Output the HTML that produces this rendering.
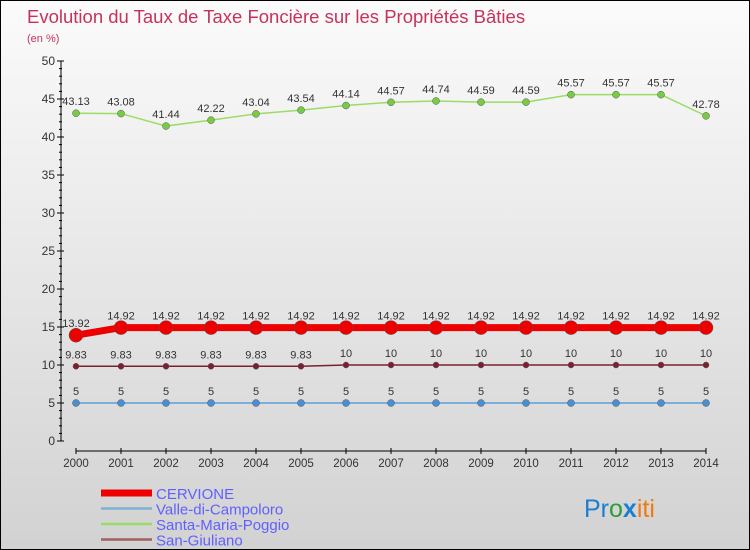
<!DOCTYPE html>
<html><head><meta charset="utf-8"><style>
body{margin:0}
#c{width:750px;height:550px;position:relative;box-sizing:border-box;border:1px solid #000;background:linear-gradient(#fbfbfb,#d2d2d2);overflow:hidden;font-family:"Liberation Sans",sans-serif}
svg text{font-family:"Liberation Sans",sans-serif}
</style></head><body>
<div id="c">
<svg id="s" width="750" height="550">
<text x="26" y="22" font-size="18.5" fill="#c8325a">Evolution du Taux de Taxe Foncière sur les Propriétés Bâties</text>
<text x="26" y="41" font-size="11" fill="#c8325a">(en %)</text>
<text x="583" y="516" font-size="25"><tspan fill="#1a7fd0">Pr</tspan><tspan fill="#2a9d3a">o</tspan><tspan fill="#1a7fd0" font-weight="bold">x</tspan><tspan fill="#f07a10">iti</tspan></text>
</svg>
</div>
<script>
const years=[2000,2001,2002,2003,2004,2005,2006,2007,2008,2009,2010,2011,2012,2013,2014];
const cervione=[13.92,14.92,14.92,14.92,14.92,14.92,14.92,14.92,14.92,14.92,14.92,14.92,14.92,14.92,14.92];
const valle=[5,5,5,5,5,5,5,5,5,5,5,5,5,5,5];
const santa=[43.13,43.08,41.44,42.22,43.04,43.54,44.14,44.57,44.74,44.59,44.59,45.57,45.57,45.57,42.78];
const sanGiuliano=[9.83,9.83,9.83,9.83,9.83,9.83,10,10,10,10,10,10,10,10,10];
const yTicks=[0,5,10,15,20,25,30,35,40,45,50];
const seriesNames=["CERVIONE","Valle-di-Campoloro","Santa-Maria-Poggio","San-Giuliano"];
const NS="http://www.w3.org/2000/svg";
const svg=document.getElementById('s');
const X=i=>75+i*45;
const Y=v=>440-v*7.6;
function mk(t,a,p){const e=document.createElementNS(NS,t);for(const k in a)e.setAttribute(k,a[k]);(p||svg).appendChild(e);return e;}
let ya=mk('line',{x1:60,y1:Y(50),x2:60,y2:Y(0),stroke:'#000'});


yTicks.forEach(v=>{
 mk('line',{x1:56,x2:63,y1:Y(v),y2:Y(v),stroke:'#000'});
 for(let k=1;k<5&&v<50;k++)mk('line',{x1:58,x2:61,y1:Y(v+k),y2:Y(v+k),stroke:'#000'});
 const t=mk('text',{x:54,y:Y(v)+4,'text-anchor':'end','font-size':12,fill:'#333'});t.textContent=v;
 
 
});
let xa=mk('line',{x1:75,y1:450,x2:705,y2:450,stroke:'#000'});


years.forEach((y,i)=>{
 mk('line',{x1:X(i),x2:X(i),y1:447,y2:453,stroke:'#000'});
 const t=mk('text',{x:X(i),y:466,'text-anchor':'middle','font-size':11.5,fill:'#333'});t.textContent=y;
 
 
});
function series(vals,color,dot,w,r,name,fmt){
 const g=mk('g',{});
 
 
 mk('polyline',{points:vals.map((v,i)=>X(i)+','+Y(v)).join(' '),fill:'none',stroke:color,'stroke-width':w},g);
 vals.forEach((v,i)=>{
  const c=mk('circle',{cx:X(i),cy:Y(v),r:r,fill:dot,stroke:'#555','stroke-width':0.5},g);
  
  
  const t=mk('text',{x:X(i),y:Y(v)-8,'text-anchor':'middle','font-size':11,fill:'#333'},g);t.textContent=fmt(v);
 });
}
const f=v=>String(v);
series(santa,'#99dd66','#77cc44',1.5,3.5,'santa-maria-poggio-series',f);
series(valle,'#5aa0d8','#4a90d0',1.5,3.5,'valle-di-campoloro-series',f);
series(sanGiuliano,'#7a2030','#7a2030',1.5,3,'san-giuliano-series',f);
series(cervione,'#ee0000','#ee0000',7,7,'cervione-series',f);
const lc=['#ee0000','#7fb0d8','#99dd66','#a06060'],lw=[7,2.5,2.5,2.5];
seriesNames.forEach((n,i)=>{
 const y=492+i*15.5;
 const g=mk('g',{});
 
 
 mk('line',{x1:100,x2:151,y1:y,y2:y,stroke:lc[i],'stroke-width':lw[i]},g);
 const t=mk('text',{x:155,y:y+6,'font-size':15,fill:'#6060ff'},g);t.textContent=n;
});
</script>
</body></html>
